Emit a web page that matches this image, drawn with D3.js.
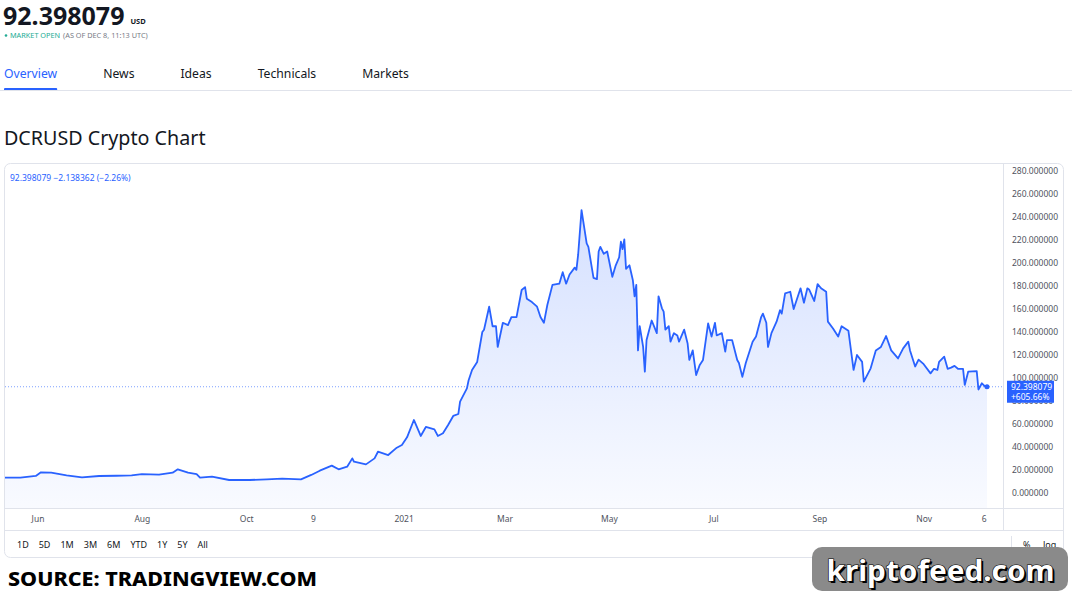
<!DOCTYPE html>
<html>
<head>
<meta charset="utf-8">
<script src="https://cdn.jsdelivr.net/npm/d3@7"></script>
<style>
  body { margin: 0; background: #fff; }
  svg text { font-family: "Noto Sans", sans-serif; }
</style>
</head>
<body>
<svg id="chart" width="1072" height="598"></svg>
<script>
// DCRUSD daily close
var dates = ["2020-05-13","2020-05-22","2020-05-31","2020-06-03","2020-06-09","2020-06-18","2020-06-27","2020-07-07","2020-07-17","2020-07-26",
  "2020-08-01","2020-08-11","2020-08-19","2020-08-22","2020-08-28","2020-09-02","2020-09-04","2020-09-11","2020-09-21","2020-10-03",
  "2020-10-13","2020-10-22","2020-11-02","2020-11-08","2020-11-13","2020-11-20","2020-11-24","2020-11-29","2020-12-02","2020-12-03",
  "2020-12-10","2020-12-15","2020-12-17","2020-12-23","2020-12-28","2020-12-31","2021-01-03","2021-01-07","2021-01-11","2021-01-14",
  "2021-01-19","2021-01-21","2021-01-24","2021-01-27","2021-01-30","2021-02-02","2021-02-03","2021-02-07","2021-02-08","2021-02-10",
  "2021-02-13","2021-02-16","2021-02-17","2021-02-20","2021-02-22","2021-02-24","2021-02-25","2021-02-28","2021-03-03","2021-03-05",
  "2021-03-08","2021-03-11","2021-03-13","2021-03-14","2021-03-17","2021-03-20","2021-03-22","2021-03-24","2021-03-26","2021-03-29",
  "2021-04-02","2021-04-04","2021-04-06","2021-04-08","2021-04-11","2021-04-12","2021-04-13","2021-04-15","2021-04-18","2021-04-19",
  "2021-04-22","2021-04-24","2021-04-25","2021-04-26","2021-04-28","2021-04-30","2021-05-03","2021-05-05","2021-05-07","2021-05-08",
  "2021-05-09","2021-05-10","2021-05-11","2021-05-13","2021-05-15","2021-05-16","2021-05-17","2021-05-18","2021-05-19","2021-05-21",
  "2021-05-22","2021-05-23","2021-05-26","2021-05-29","2021-05-30","2021-06-01","2021-06-02","2021-06-03","2021-06-05","2021-06-06",
  "2021-06-08","2021-06-10","2021-06-11","2021-06-14","2021-06-16","2021-06-17","2021-06-19","2021-06-21","2021-06-23","2021-06-25",
  "2021-06-28","2021-06-30","2021-07-02","2021-07-03","2021-07-06","2021-07-08","2021-07-09","2021-07-12","2021-07-15","2021-07-16",
  "2021-07-18","2021-07-20","2021-07-24","2021-07-26","2021-07-29","2021-07-30","2021-08-01","2021-08-02","2021-08-04","2021-08-07",
  "2021-08-09","2021-08-10","2021-08-12","2021-08-15","2021-08-17","2021-08-21","2021-08-23","2021-08-25","2021-08-26","2021-08-29",
  "2021-08-31","2021-09-02","2021-09-05","2021-09-06","2021-09-09","2021-09-12","2021-09-14","2021-09-18","2021-09-21","2021-09-23",
  "2021-09-26","2021-09-27","2021-10-01","2021-10-04","2021-10-07","2021-10-10","2021-10-13","2021-10-17","2021-10-20","2021-10-23",
  "2021-10-24","2021-10-27","2021-10-29","2021-11-01","2021-11-05","2021-11-07","2021-11-09","2021-11-10","2021-11-13","2021-11-15",
  "2021-11-17","2021-11-19","2021-11-21","2021-11-24","2021-11-25","2021-11-27","2021-12-02","2021-12-03","2021-12-05","2021-12-07",
  "2021-12-08"];
var prices = [13.3,13.3,14.8,18,17.7,15.4,13.6,14.8,15,15.4,
  16.5,15.9,17.7,20.6,17.7,16.5,13.3,14.2,11.3,11.3,
  11.9,12.5,11.9,15.7,19.4,23.8,20.6,22.9,30.1,27.2,
  24.9,30.1,35.9,33,39.4,41.7,48.4,63.5,49.6,57.4,
  55.4,49.6,51.9,59.1,67,68.7,79.4,91,98,107,
  114,140,142,162,145,145,127,148,146,153,
  153,176.5,179,169,166,162,153,148,163.5,181,
  182,192,182,190,196,194,207,246,217,214,
  187,186,210,214,208,210,188,198,205,218.5,
  212,220.6,195,198,185,171,181,124,145,127,
  105.5,133,150,139,171,160.6,157.7,142,145,131.6,
  139,137,131.6,142,130,115.7,124,102.6,111,115.7,
  147.5,136,148,137,139,123,133,133,115.7,113,
  101,113,131.6,136,153,156,148,127,139,149,
  159,156,173.6,175,160,178,165.5,178,177,167,
  181.7,178,175,149,143,136,145,141,107,120,
  114,96.8,108.4,124,127,136.5,124,117,125.8,131.6,
  124,110,116,112,104,108,107,114,118.5,108,
  109,110.5,108,108,94,105.5,106,90,95.4,92.4,
  92.398079];

var lastPrice = 92.398079;
var change = "\u22122.138362 (\u22122.26%)";
var totalChange = "+605.66%";

var xTickDates = ["2020-06-01","2020-08-01","2020-10-01","2020-11-09","2021-01-01","2021-03-01","2021-05-01","2021-07-01","2021-09-01","2021-11-01","2021-12-06"];
var xTickLabels = ["Jun","Aug","Oct","9","2021","Mar","May","Jul","Sep","Nov","6"];
var yTicks = [0,20,40,60,80,100,120,140,160,180,200,220,240,260,280];
var tabs = ["Overview","News","Ideas","Technicals","Markets"];
var periods = ["1D","5D","1M","3M","6M","YTD","1Y","5Y","All"];

var blue = "#2962ff";
var svg = d3.select("#chart");
var parse = d3.timeParse("%Y-%m-%d");
var data = dates.map(function(d, i) { return {date: parse(d), price: prices[i]}; });

var plot = {left: 5, right: 1003, top: 164, bottom: 508};

var x = d3.scaleTime()
    .domain(d3.extent(data, function(d) { return d.date; }))
    .range([5, 987]);
var y = d3.scaleLinear()
    .domain([0, 280])
    .range([493, 171]);

// ---- header ----
var price_txt = svg.append("text")
    .attr("x", 3).attr("y", 25)
    .attr("font-size", 25).attr("font-weight", 700).attr("fill", "#131722")
    .text(d3.format(".6f")(lastPrice));
var pw = price_txt.node().getComputedTextLength();
svg.append("text")
    .attr("x", 3 + pw + 6).attr("y", 24)
    .attr("font-size", 7.5).attr("font-weight", 700).attr("fill", "#131722")
    .text("USD");

svg.append("circle").attr("cx", 6).attr("cy", 35.5).attr("r", 1.3).attr("fill", "#22ab94");
var mo = svg.append("text")
    .attr("x", 10).attr("y", 38)
    .attr("font-size", 7.3).attr("fill", "#22ab94")
    .text("MARKET OPEN");
svg.append("text")
    .attr("x", 10 + mo.node().getComputedTextLength() + 3).attr("y", 38)
    .attr("font-size", 7.3).attr("fill", "#787b86")
    .text("(AS OF DEC 8, 11:13 UTC)");

// tabs
var tx = 4;
tabs.forEach(function(t, i) {
  var el = svg.append("text")
      .attr("x", tx).attr("y", 78)
      .attr("font-size", 12.2)
      .attr("fill", i == 0 ? blue : "#131722")
      .text(t);
  var w = el.node().getComputedTextLength();
  if (i == 0) {
    svg.append("rect").attr("x", tx).attr("y", 88).attr("width", w).attr("height", 3)
        .attr("rx", 1).attr("fill", blue);
  }
  tx += w + 46;
});
svg.append("line").attr("x1", 0).attr("x2", 1072).attr("y1", 90.5).attr("y2", 90.5)
    .attr("stroke", "#e0e3eb");

svg.append("text")
    .attr("x", 4).attr("y", 145)
    .attr("font-size", 19.7).attr("fill", "#131722")
    .text("DCRUSD Crypto Chart");

// ---- chart panel ----
svg.append("rect")
    .attr("x", 4.5).attr("y", 163.5).attr("width", 1059).attr("height", 394)
    .attr("rx", 6).attr("fill", "none").attr("stroke", "#e0e3eb");

var defs = svg.append("defs");
defs.append("clipPath").attr("id", "plot-clip")
  .append("rect")
    .attr("x", plot.left).attr("y", plot.top)
    .attr("width", plot.right - plot.left).attr("height", plot.bottom - plot.top);

var grad = defs.append("linearGradient").attr("id", "area-grad")
    .attr("gradientUnits", "userSpaceOnUse")
    .attr("x1", 0).attr("x2", 0).attr("y1", y(250)).attr("y2", plot.bottom);
grad.append("stop").attr("offset", "0%").attr("stop-color", blue).attr("stop-opacity", 0.2);
grad.append("stop").attr("offset", "100%").attr("stop-color", blue).attr("stop-opacity", 0.03);

var g = svg.append("g").attr("clip-path", "url(#plot-clip)");

var area = d3.area()
    .x(function(d) { return x(d.date); })
    .y0(plot.bottom)
    .y1(function(d) { return y(d.price); });
var line = d3.line()
    .x(function(d) { return x(d.date); })
    .y(function(d) { return y(d.price); });

g.append("path").datum(data).attr("d", area).attr("fill", "url(#area-grad)");

// last price dotted line
g.append("line")
    .attr("x1", plot.left).attr("x2", plot.right)
    .attr("y1", y(lastPrice)).attr("y2", y(lastPrice))
    .attr("stroke", blue).attr("stroke-opacity", 0.6)
    .attr("stroke-dasharray", "1,2");

g.append("path").datum(data).attr("d", line)
    .attr("fill", "none").attr("stroke", blue).attr("stroke-width", 1.8)
    .attr("stroke-linejoin", "round");

var last = data[data.length - 1];
g.append("circle").attr("cx", x(last.date)).attr("cy", y(last.price)).attr("r", 2.5)
    .attr("fill", blue);

// legend
svg.append("text")
    .attr("x", 10).attr("y", 181)
    .attr("font-size", 8.5).attr("fill", blue)
    .text(d3.format(".6f")(lastPrice) + " " + change);

// separators
svg.append("line").attr("x1", plot.left).attr("x2", 1063).attr("y1", 508.5).attr("y2", 508.5).attr("stroke", "#e0e3eb");
svg.append("line").attr("x1", plot.left).attr("x2", 1063).attr("y1", 530.5).attr("y2", 530.5).attr("stroke", "#e0e3eb");
svg.append("line").attr("x1", 1003.5).attr("x2", 1003.5).attr("y1", plot.top).attr("y2", 530.5).attr("stroke", "#e0e3eb");
svg.append("line").attr("x1", 1011.5).attr("x2", 1011.5).attr("y1", 536).attr("y2", 553).attr("stroke", "#e0e3eb");

// y axis
var yAxis = svg.append("g")
    .attr("transform", "translate(1003,0)")
    .call(d3.axisRight(y).tickValues(yTicks).tickSize(0).tickPadding(9)
      .tickFormat(d3.format(".6f")));
yAxis.select(".domain").remove();
yAxis.selectAll("text").attr("font-size", 8.5).attr("fill", "#50535e")
    .attr("font-family", "\"Noto Sans\", sans-serif");

// x axis
var xAxis = svg.append("g")
    .attr("transform", "translate(0,508)")
    .call(d3.axisBottom(x).tickValues(xTickDates.map(parse)).tickSize(0).tickPadding(8)
      .tickFormat(function(d, i) { return xTickLabels[i]; }));
xAxis.select(".domain").remove();
xAxis.selectAll("text").attr("font-size", 8.5).attr("fill", "#50535e")
    .attr("font-family", "\"Noto Sans\", sans-serif");

// last price label on axis (covers the 80 tick, like the original)
var ly = y(lastPrice);
svg.append("rect").attr("x", 1007).attr("y", ly - 6).attr("width", 47).attr("height", 22)
    .attr("fill", blue);
svg.append("text").attr("x", 1011).attr("y", ly + 3)
    .attr("font-size", 8.5).attr("fill", "#fff")
    .text(d3.format(".6f")(lastPrice));
svg.append("text").attr("x", 1011).attr("y", ly + 13)
    .attr("font-size", 8.5).attr("fill", "#fff")
    .text(totalChange);

// range buttons
var bx = 17;
periods.forEach(function(p) {
  var el = svg.append("text")
      .attr("x", bx).attr("y", 548)
      .attr("font-size", 9).attr("fill", "#131722")
      .text(p);
  bx += el.node().getComputedTextLength() + 10;
});
svg.append("text").attr("x", 1023).attr("y", 548).attr("font-size", 9).attr("fill", "#131722").text("%");
svg.append("text").attr("x", 1043).attr("y", 548).attr("font-size", 9).attr("fill", "#131722").text("log");

// ---- footer ----
svg.append("text")
    .attr("x", 8).attr("y", 586)
    .attr("font-family", "\"Open Sans\", sans-serif")
    .attr("font-size", 20).attr("font-weight", 800).attr("fill", "#000")
    .attr("textLength", 309).attr("lengthAdjust", "spacingAndGlyphs")
    .text("SOURCE: TRADINGVIEW.COM");

svg.append("rect").attr("x", 812).attr("y", 547).attr("width", 256).attr("height", 44)
    .attr("rx", 10).attr("fill", "#8a8a8a");
svg.append("text")
    .attr("x", 828.5).attr("y", 582.5)
    .attr("font-family", "\"DejaVu Sans\", sans-serif")
    .attr("font-size", 28).attr("font-weight", 700).attr("fill", "#000")
    .attr("textLength", 228).attr("lengthAdjust", "spacingAndGlyphs")
    .text("kriptofeed.com");
svg.append("text")
    .attr("x", 826.5).attr("y", 580.5)
    .attr("font-family", "\"DejaVu Sans\", sans-serif")
    .attr("font-size", 28).attr("font-weight", 700).attr("fill", "#fff")
    .attr("stroke", "#000").attr("stroke-width", 1.2).attr("paint-order", "stroke")
    .attr("textLength", 228).attr("lengthAdjust", "spacingAndGlyphs")
    .text("kriptofeed.com");
</script>
</body>
</html>
